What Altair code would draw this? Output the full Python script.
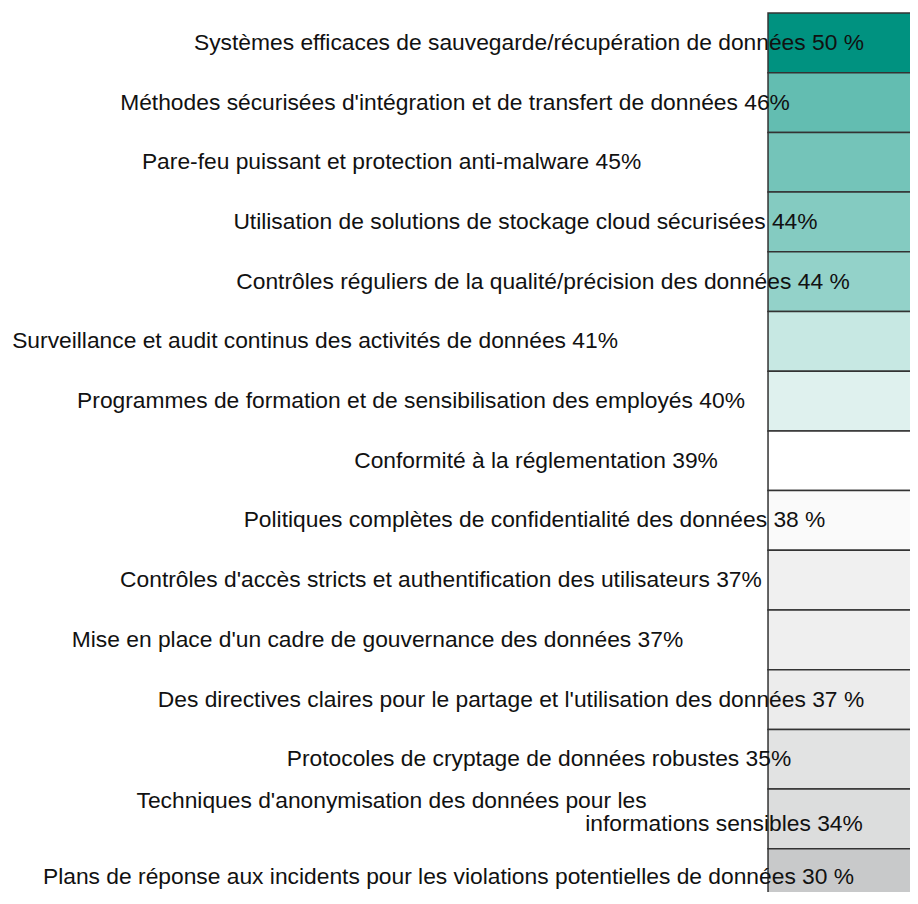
import altair as alt
import pandas as pd

# ---- data ----
categories = [
    "Systèmes efficaces de sauvegarde/récupération de données",
    "Méthodes sécurisées d'intégration et de transfert de données",
    "Pare-feu puissant et protection anti-malware",
    "Utilisation de solutions de stockage cloud sécurisées",
    "Contrôles réguliers de la qualité/précision des données",
    "Surveillance et audit continus des activités de données",
    "Programmes de formation et de sensibilisation des employés",
    "Conformité à la réglementation",
    "Politiques complètes de confidentialité des données",
    "Contrôles d'accès stricts et authentification des utilisateurs",
    "Mise en place d'un cadre de gouvernance des données",
    "Des directives claires pour le partage et l'utilisation des données",
    "Protocoles de cryptage de données robustes",
    "Techniques d'anonymisation des données pour les informations sensibles",
    "Plans de réponse aux incidents pour les violations potentielles de données",
]
values = [50, 46, 45, 44, 44, 41, 40, 39, 38, 37, 37, 37, 35, 34, 30]

# label text lines (row index, text)
label_lines = [
    (0, "Systèmes efficaces de sauvegarde/récupération de données 50 %"),
    (1, "Méthodes sécurisées d'intégration et de transfert de données 46%"),
    (2, "Pare-feu puissant et protection anti-malware 45%"),
    (3, "Utilisation de solutions de stockage cloud sécurisées 44%"),
    (4, "Contrôles réguliers de la qualité/précision des données 44 %"),
    (5, "Surveillance et audit continus des activités de données 41%"),
    (6, "Programmes de formation et de sensibilisation des employés 40%"),
    (7, "Conformité à la réglementation 39%"),
    (8, "Politiques complètes de confidentialité des données 38 %"),
    (9, "Contrôles d'accès stricts et authentification des utilisateurs 37%"),
    (10, "Mise en place d'un cadre de gouvernance des données 37%"),
    (11, "Des directives claires pour le partage et l'utilisation des données 37 %"),
    (12, "Protocoles de cryptage de données robustes 35%"),
    (13, "Techniques d'anonymisation des données pour les"),
    (13, "informations sensibles 34%"),
    (14, "Plans de réponse aux incidents pour les violations potentielles de données 30 %"),
]

# ---- layout / style (not data) ----
W, H = 902, 884
ROW_PX = 59.7
TOP_PX = 5
bar_left_pct = 84.26
# label centre, in % of chart width
label_center_pct = [57.76, 49.56, 42.52, 57.37, 59.31, 34.04, 44.68, 58.54, 58.37,
                    48.00, 40.96, 55.76, 58.87, 42.52, 79.38, 48.84]
# vertical offset of each text line, in rows, from the row centre
label_offset_rows = [0, 0, 0, 0, 0, 0, 0, 0, 0, 0, 0, 0, 0, -0.30, 0.09, -0.02]
row_colors = ["#009280", "#63bdb1", "#74c4b9", "#84cbc1", "#93d2c9", "#c7e8e3",
              "#dff1ee", "#ffffff", "#fafafa", "#f0f0f0", "#efefef", "#ececec",
              "#e2e3e3", "#dcdddd", "#c8c9ca"]

bars = pd.DataFrame({
    "category": categories,
    "value": values,
    "row": list(range(len(categories))),
})
bars["row2"] = bars["row"] + 1
bars["x0"] = bar_left_pct
bars["x1"] = 101.0

texts = pd.DataFrame({
    "row": [r for r, _ in label_lines],
    "text": [t for _, t in label_lines],
})
texts["ypos"] = [r + 0.5 + o for r, o in zip(texts["row"], label_offset_rows)]
texts["xpos"] = label_center_pct

d0 = -TOP_PX / ROW_PX
d1 = d0 + H / ROW_PX
yscale = alt.Scale(domain=[d0, d1], reverse=True, nice=False, zero=False)
xscale = alt.Scale(domain=[0, 100], nice=False, zero=False)

bar_layer = alt.Chart(bars).mark_rect(
    stroke="#333333", strokeWidth=1.5, clip=True
).encode(
    x=alt.X("x0:Q", scale=xscale, axis=None),
    x2="x1:Q",
    y=alt.Y("row:Q", scale=yscale, axis=None),
    y2="row2:Q",
    color=alt.Color("category:N", scale=alt.Scale(domain=categories, range=row_colors),
                    legend=None),
    tooltip=["category:N", "value:Q"],
)

text_layer = alt.Chart(texts).mark_text(
    font="Liberation Sans", fontSize=22.8, color="#111111",
    align="center", baseline="middle"
).encode(
    x=alt.X("xpos:Q", scale=xscale, axis=None),
    y=alt.Y("ypos:Q", scale=yscale, axis=None),
    text="text:N",
)

chart = alt.layer(bar_layer, text_layer).properties(
    width=W, height=H, padding=0,
    autosize=alt.AutoSizeParams(type="none"),
).configure_view(stroke=None)

chart.save("out.html", embed_options={"renderer": "svg", "actions": False})
